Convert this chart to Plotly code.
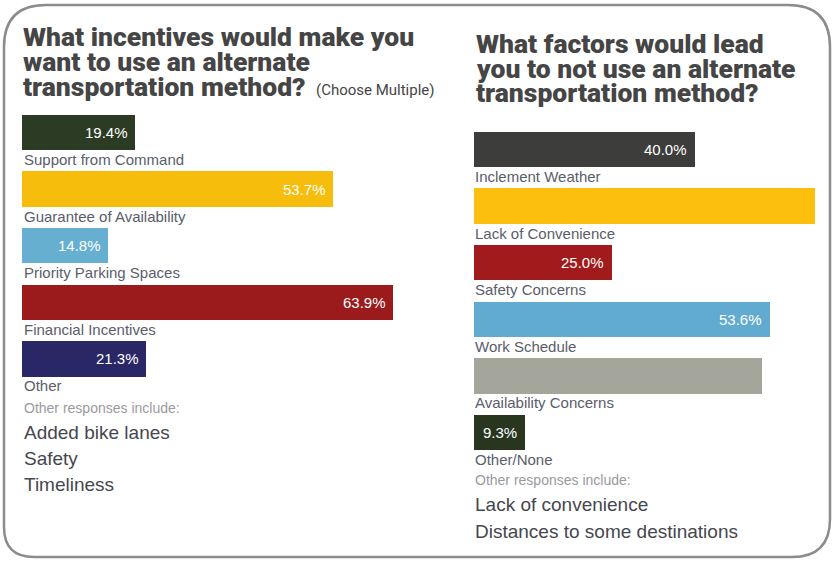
import plotly.graph_objects as go

W, H = 833, 561

# ---------------- data ----------------
left_categories = ["Support from Command", "Guarantee of Availability",
                   "Priority Parking Spaces", "Financial Incentives", "Other"]
left_values = [19.4, 53.7, 14.8, 63.9, 21.3]
left_colors = ["#2c3b24", "#f7bd0c", "#67afd0", "#9b1a1c", "#2a2766"]
left_show_value = [True, True, True, True, True]

right_categories = ["Inclement Weather", "Lack of Convenience", "Safety Concerns",
                    "Work Schedule", "Availability Concerns", "Other/None"]
right_values = [40.0, 61.7, 25.0, 53.6, 52.1, 9.3]
right_colors = ["#3d3d3b", "#fcbf0e", "#a11b1d", "#62abd0", "#a5a69b", "#28361f"]
right_show_value = [True, False, True, True, False, True]

left_title = ["What incentives would make you", "want to use an alternate",
              "transportation method?"]
right_title = ["What factors would lead", "you to not use an alternate",
               "transportation method?"]
left_other = ["Added bike lanes", "Safety", "Timeliness"]
right_other = ["Lack of convenience", "Distances to some destinations"]

# ---------------- helpers ----------------
def px(x):
    return x / W

def py(y):
    return 1 - y / H

TITLE_FONT = "Roboto, DejaVu Sans, sans-serif"
SUB_FONT = "Roboto, Liberation Sans, sans-serif"
BODY_FONT = "Liberation Sans, Arial, sans-serif"

fig = go.Figure()

fig.add_trace(go.Bar(
    orientation="h", x=left_values, y=list(range(len(left_values))),
    width=0.627, marker=dict(color=left_colors, line=dict(width=0)),
    xaxis="x", yaxis="y", hoverinfo="x", showlegend=False,
))
fig.add_trace(go.Bar(
    orientation="h", x=right_values, y=list(range(len(right_values))),
    width=0.627, marker=dict(color=right_colors, line=dict(width=0)),
    xaxis="x2", yaxis="y2", hoverinfo="x", showlegend=False,
))

ann = []
# category labels and value labels
for i, (c, v, s) in enumerate(zip(left_categories, left_values, left_show_value)):
    ann.append(dict(xref="x", yref="y", x=0, y=i, text=c, showarrow=False,
                    xanchor="left", yanchor="middle", yshift=-27, xshift=0,
                    font=dict(family=BODY_FONT, size=15, color="#5a5d6a")))
    if s:
        ann.append(dict(xref="x", yref="y", x=v, y=i, text=f"{v:.1f}%",
                        showarrow=False, xanchor="right", yanchor="middle",
                        xshift=-5, font=dict(family=BODY_FONT, size=15, color="white")))
for i, (c, v, s) in enumerate(zip(right_categories, right_values, right_show_value)):
    ann.append(dict(xref="x2", yref="y2", x=0, y=i, text=c, showarrow=False,
                    xanchor="left", yanchor="middle", yshift=-27, xshift=0,
                    font=dict(family=BODY_FONT, size=15, color="#5a5d6a")))
    if s:
        ann.append(dict(xref="x2", yref="y2", x=v, y=i, text=f"{v:.1f}%",
                        showarrow=False, xanchor="right", yanchor="middle",
                        xshift=-5, font=dict(family=BODY_FONT, size=15, color="white")))

# titles
for t, yy in zip(left_title, [37, 62, 87]):
    ann.append(dict(xref="paper", yref="paper", x=px(21), y=py(yy), text=t,
                    showarrow=False, xanchor="left", yanchor="middle",
                    font=dict(family=TITLE_FONT, size=26.5, weight=900, color="#454545")))
ann.append(dict(xref="paper", yref="paper", x=px(314), y=py(90), text="(Choose Multiple)",
                showarrow=False, xanchor="left", yanchor="middle",
                font=dict(family=SUB_FONT, size=15, color="#454545")))
for t, yy in zip(right_title, [43, 68, 92]):
    ann.append(dict(xref="paper", yref="paper", x=px(474), y=py(yy), text=t,
                    showarrow=False, xanchor="left", yanchor="middle",
                    font=dict(family=TITLE_FONT, size=26.5, weight=900, color="#454545")))

# other responses
ann.append(dict(xref="paper", yref="paper", x=px(22), y=py(408), text="Other responses include:",
                showarrow=False, xanchor="left", yanchor="middle",
                font=dict(family=BODY_FONT, size=14, color="#9a9a9e")))
for t, yy in zip(left_other, [432, 458, 484]):
    ann.append(dict(xref="paper", yref="paper", x=px(22), y=py(yy), text=t,
                    showarrow=False, xanchor="left", yanchor="middle",
                    font=dict(family=BODY_FONT, size=19, color="#45474f")))
ann.append(dict(xref="paper", yref="paper", x=px(473), y=py(480), text="Other responses include:",
                showarrow=False, xanchor="left", yanchor="middle",
                font=dict(family=BODY_FONT, size=14, color="#9a9a9e")))
for t, yy in zip(right_other, [504, 531]):
    ann.append(dict(xref="paper", yref="paper", x=px(473), y=py(yy), text=t,
                    showarrow=False, xanchor="left", yanchor="middle",
                    font=dict(family=BODY_FONT, size=19, color="#45474f")))

# rounded border
L, T, R, B = 4, 5, 830, 557
rtl, rtr, rbl, rbr = 42, 42, 30, 38
pts = [
    f"M {px(L)} {py(T + rtl)}",
    f"Q {px(L)} {py(T)} {px(L + rtl)} {py(T)}",
    f"L {px(R - rtr)} {py(T)}",
    f"Q {px(R)} {py(T)} {px(R)} {py(T + rtr)}",
    f"L {px(R)} {py(B - rbr)}",
    f"Q {px(R)} {py(B)} {px(R - rbr)} {py(B)}",
    f"L {px(L + rbl)} {py(B)}",
    f"Q {px(L)} {py(B)} {px(L)} {py(B - rbl)}",
    "Z",
]
shapes = [dict(type="path", xref="paper", yref="paper", path=" ".join(pts),
               line=dict(color="#8c8c8c", width=2.5), fillcolor="rgba(0,0,0,0)")]

# axis geometry (pixel-based)
l_x0, l_scale = 22, 5.8
r_x0, r_scale = 473, 5.53
l_c0, r_c0, step = 132.5, 149.5, 56.6

hidden = dict(visible=False, showgrid=False, zeroline=False, fixedrange=True)
fig.update_layout(
    width=W, height=H, margin=dict(l=0, r=0, t=0, b=0),
    paper_bgcolor="white", plot_bgcolor="rgba(0,0,0,0)",
    bargap=0, showlegend=False,
    xaxis=dict(domain=[0, 0.5], range=[-l_x0 / l_scale, (W / 2 - l_x0) / l_scale], **hidden),
    yaxis=dict(domain=[0, 1], range=[(H - l_c0) / step, -l_c0 / step], **hidden),
    xaxis2=dict(domain=[0.5, 1], range=[(W / 2 - r_x0) / r_scale, (W - r_x0) / r_scale],
                anchor="y2", **hidden),
    yaxis2=dict(domain=[0, 1], range=[(H - r_c0) / step, -r_c0 / step], anchor="x2", **hidden),
    annotations=ann, shapes=shapes,
)

fig.write_html("out.html")
